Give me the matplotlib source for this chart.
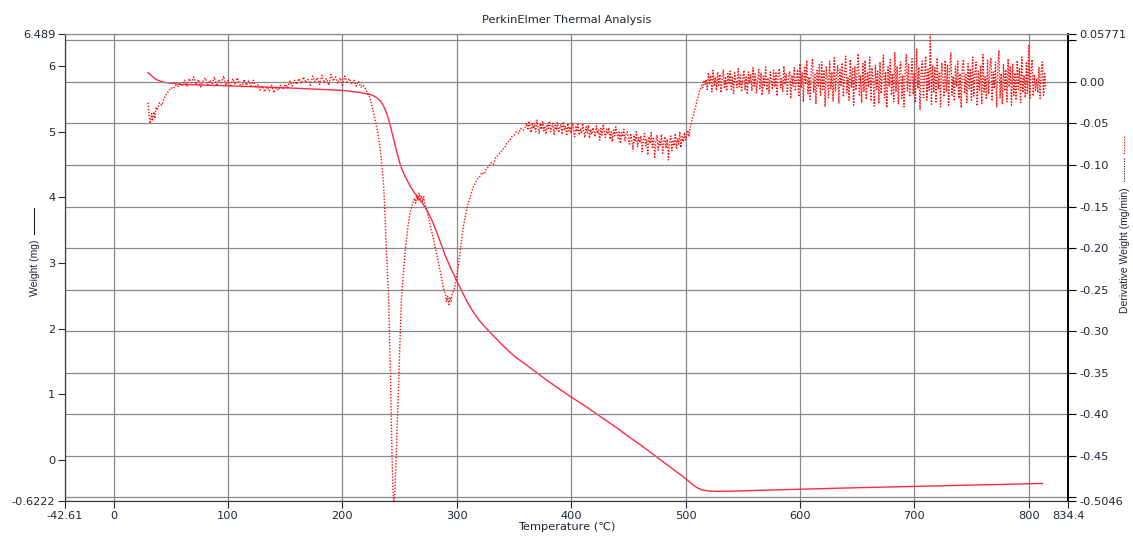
import matplotlib
matplotlib.use("Agg")
import matplotlib.pyplot as plt
from matplotlib.lines import Line2D

plt.rcParams['font.family'] = ['DejaVu Sans']

# ---------------- data ----------------
title = "PerkinElmer Thermal Analysis"
x_label = "Temperature (\u2103)"
left_label = "Weight (mg)"
right_label = "Derivative Weight (mg/min)"

x_ticks = [-42.61, 0, 100, 200, 300, 400, 500, 600, 700, 800, 834.4]
x_tick_labels = ["-42.61", "0", "100", "200", "300", "400", "500", "600", "700", "800", "834.4"]
left_ticks = [-0.6222, 0, 1, 2, 3, 4, 5, 6, 6.489]
left_tick_labels = ["-0.6222", "0", "1", "2", "3", "4", "5", "6", "6.489"]
right_ticks = [-0.5046, -0.50, -0.45, -0.40, -0.35, -0.30, -0.25, -0.20, -0.15,
               -0.10, -0.05, 0.00, 0.05, 0.05771]
right_tick_labels = ["-0.5046", "", "-0.45", "-0.40", "-0.35", "-0.30", "-0.25", "-0.20",
                     "-0.15", "-0.10", "-0.05", "0.00", "", "0.05771"]

# weight (TG) curve
weight_temp = [30, 32, 34, 36, 38, 41, 45, 50, 60, 80, 100, 150, 200, 210, 215, 220,
               224, 227, 230, 232, 234, 236, 238, 240, 242, 244, 246, 248, 250, 252,
               254, 256, 258, 260, 263, 266, 270, 274, 278, 282, 286, 290, 295, 300,
               305, 310, 315, 320, 325, 330, 335, 340, 346, 352, 360, 370, 380, 390,
               400, 410, 420, 430, 440, 450, 460, 470, 480, 490, 497, 502, 506, 510,
               514, 518, 522, 528, 540, 560, 600, 650, 700, 750, 800, 812]
weight_mg = [5.90, 5.87, 5.84, 5.81, 5.79, 5.77, 5.75, 5.74, 5.72, 5.71, 5.70, 5.67,
             5.63, 5.61, 5.60, 5.58, 5.57, 5.55, 5.52, 5.49, 5.45, 5.39, 5.31, 5.21,
             5.08, 4.94, 4.80, 4.66, 4.53, 4.43, 4.35, 4.28, 4.21, 4.15, 4.07, 4.00,
             3.91, 3.80, 3.66, 3.49, 3.30, 3.11, 2.91, 2.73, 2.55, 2.38, 2.24, 2.12,
             2.02, 1.93, 1.84, 1.75, 1.65, 1.56, 1.46, 1.33, 1.20, 1.08, 0.96, 0.85,
             0.73, 0.61, 0.49, 0.36, 0.24, 0.11, -0.02, -0.15, -0.24, -0.31, -0.37,
             -0.42, -0.45, -0.465, -0.472, -0.475, -0.472, -0.462, -0.443, -0.42,
             -0.40, -0.38, -0.36, -0.355]

# derivative (DTG) curve, read segment by segment
dtg_temp_start = [30, 31, 32, 33, 34, 35, 36, 37, 38, 40, 42, 44, 46, 48, 50, 52, 54, 56, 58]
dtg_start = [-0.025, -0.042, -0.050, -0.038, -0.047, -0.036, -0.044, -0.030, -0.034,
             -0.025, -0.028, -0.020, -0.015, -0.011, -0.007, -0.008, -0.004, -0.006, -0.002]

dtg_temp_flat = [60, 62, 64, 66, 68, 70, 72, 74, 76, 78,
                 80, 82, 84, 86, 88, 90, 92, 94, 96, 98,
                 100, 102, 104, 106, 108, 110, 112, 114, 116, 118,
                 120, 122, 124, 126, 128, 130, 132, 134, 136, 138,
                 140, 142, 144, 146, 148, 150, 152, 154, 156, 158,
                 160, 162, 164, 166, 168, 170, 172, 174, 176, 178,
                 180, 182, 184, 186, 188, 190, 192, 194, 196, 198,
                 200, 202, 204, 206, 208, 210, 212, 214, 216, 218]
dtg_flat = [-0.004, 0.002, -0.005, 0.004, -0.001, 0.006, -0.003, 0.003, -0.006, 0.001,
            0.005, -0.004, 0.002, -0.002, 0.006, -0.005, 0.003, -0.001, 0.007, -0.004,
            0.002, -0.006, 0.004, -0.003, 0.005, -0.002, -0.006, 0.003, -0.004, 0.001,
            -0.005, 0.002, -0.007, -0.003, -0.010, -0.005, -0.012, -0.006, -0.011, -0.004,
            -0.013, -0.007, -0.010, -0.004, -0.009, -0.003, -0.007, 0.001, -0.005, 0.002,
            -0.003, 0.004, -0.002, 0.006, -0.001, 0.003, -0.004, 0.007, 0.000, 0.005,
            -0.003, 0.008, -0.001, 0.004, -0.004, 0.009, 0.001, 0.006, -0.002, 0.005,
            -0.004, 0.007, 0.000, 0.004, -0.003, 0.002, -0.005, 0.001, -0.006, -0.004]

dtg_temp_peaks = [220, 222, 224, 226, 228, 230, 232, 234, 236, 237.5, 238.6, 240.4, 241.9,
                  243.3, 244.3, 245, 245.8, 247, 249.4, 251.5, 253.5, 255.5, 257.5, 259,
                  261, 263, 264, 265, 266, 267, 268, 269, 270, 271, 272, 274, 276, 278,
                  280, 282, 284, 286, 288, 290, 291, 292, 293, 294, 295, 296, 298, 300,
                  302, 304, 306, 308, 310, 312, 314, 316, 318, 320, 322, 324, 326, 328,
                  330, 332, 334, 336, 338, 340, 342, 344, 346, 348, 350, 352, 354, 356,
                  358, 360]
dtg_peaks = [-0.008, -0.013, -0.019, -0.030, -0.042, -0.055, -0.070, -0.092, -0.125, -0.170,
             -0.210, -0.262, -0.350, -0.450, -0.495, -0.5046, -0.495, -0.450, -0.350, -0.262,
             -0.225, -0.195, -0.172, -0.158, -0.148, -0.140, -0.146, -0.136, -0.143, -0.134,
             -0.141, -0.137, -0.144, -0.138, -0.147, -0.155, -0.168, -0.180, -0.192, -0.205,
             -0.218, -0.232, -0.246, -0.256, -0.265, -0.258, -0.268, -0.259, -0.264, -0.255,
             -0.248, -0.234, -0.214, -0.192, -0.172, -0.158, -0.146, -0.137, -0.128, -0.122,
             -0.117, -0.114, -0.109, -0.111, -0.104, -0.102, -0.097, -0.099, -0.091, -0.088,
             -0.085, -0.081, -0.079, -0.073, -0.071, -0.066, -0.064, -0.060, -0.062, -0.056,
             -0.058, -0.054]

dtg_temp_mid = [361, 362, 363, 364, 365, 366, 367, 368, 369, 370,
                371, 372, 373, 374, 375, 376, 377, 378, 379, 380,
                381, 382, 383, 384, 385, 386, 387, 388, 389, 390,
                391, 392, 393, 394, 395, 396, 397, 398, 399, 400,
                401, 402, 403, 404, 405, 406, 407, 408, 409, 410,
                411, 412, 413, 414, 415, 416, 417, 418, 419, 420,
                421, 422, 423, 424, 425, 426, 427, 428, 429, 430,
                431, 432, 433, 434, 435, 436, 437, 438, 439, 440,
                441, 442, 443, 444, 445, 446, 447, 448, 449, 450,
                451, 452, 453, 454, 455, 456, 457, 458, 459, 460,
                461, 462, 463, 464, 465, 466, 467, 468, 469, 470,
                471, 472, 473, 474, 475, 476, 477, 478, 479, 480,
                481, 482, 483, 484, 485, 486, 487, 488, 489, 490,
                491, 492, 493, 494, 495, 496, 497, 498, 499, 500,
                501, 502, 503, 504, 505, 506, 507, 508, 509, 510,
                511, 512, 513, 514, 515, 516, 517]
dtg_mid = [-0.050, -0.058, -0.047, -0.055, -0.061, -0.049, -0.056, -0.052, -0.060, -0.046,
           -0.054, -0.062, -0.050, -0.057, -0.048, -0.059, -0.053, -0.063, -0.051, -0.056,
           -0.047, -0.060, -0.054, -0.050, -0.064, -0.052, -0.058, -0.049, -0.061, -0.055,
           -0.051, -0.063, -0.048, -0.057, -0.053, -0.065, -0.050, -0.059, -0.054, -0.062,
           -0.049, -0.058, -0.066, -0.053, -0.060, -0.051, -0.064, -0.056, -0.062, -0.050,
           -0.059, -0.067, -0.054, -0.061, -0.052, -0.068, -0.057, -0.063, -0.055, -0.060,
           -0.066, -0.053, -0.062, -0.058, -0.070, -0.056, -0.064, -0.051, -0.061, -0.067,
           -0.057, -0.063, -0.055, -0.069, -0.060, -0.072, -0.058, -0.065, -0.054, -0.062,
           -0.068, -0.059, -0.074, -0.061, -0.066, -0.057, -0.071, -0.063, -0.060, -0.069,
           -0.075, -0.062, -0.070, -0.081, -0.064, -0.072, -0.060, -0.078, -0.067, -0.073,
           -0.065, -0.084, -0.070, -0.062, -0.077, -0.069, -0.088, -0.066, -0.074, -0.061,
           -0.079, -0.068, -0.092, -0.071, -0.064, -0.082, -0.070, -0.076, -0.063, -0.086,
           -0.072, -0.066, -0.080, -0.069, -0.094, -0.073, -0.065, -0.083, -0.070, -0.077,
           -0.062, -0.081, -0.068, -0.075, -0.060, -0.079, -0.066, -0.072, -0.061, -0.070,
           -0.064, -0.058, -0.066, -0.055, -0.050, -0.044, -0.040, -0.033, -0.029, -0.022,
           -0.018, -0.012, -0.009, -0.004, -0.007, 0.002, -0.003]

dtg_temp_end = [518, 519, 520, 521, 522, 523, 524, 525, 526, 527,
                528, 529, 530, 531, 532, 533, 534, 535, 536, 537,
                538, 539, 540, 541, 542, 543, 544, 545, 546, 547,
                548, 549, 550, 551, 552, 553, 554, 555, 556, 557,
                558, 559, 560, 561, 562, 563, 564, 565, 566, 567,
                568, 569, 570, 571, 572, 573, 574, 575, 576, 577,
                578, 579, 580, 581, 582, 583, 584, 585, 586, 587,
                588, 589, 590, 591, 592, 593, 594, 595, 596, 597,
                598, 599, 600, 601, 602, 603, 604, 605, 606, 607,
                608, 609, 610, 611, 612, 613, 614, 615, 616, 617,
                618, 619, 620, 621, 622, 623, 624, 625, 626, 627,
                628, 629, 630, 631, 632, 633, 634, 635, 636, 637,
                638, 639, 640, 641, 642, 643, 644, 645, 646, 647,
                648, 649, 650, 651, 652, 653, 654, 655, 656, 657,
                658, 659, 660, 661, 662, 663, 664, 665, 666, 667,
                668, 669, 670, 671, 672, 673, 674, 675, 676, 677,
                678, 679, 680, 681, 682, 683, 684, 685, 686, 687,
                688, 689, 690, 691, 692, 693, 694, 695, 696, 697,
                698, 699, 700, 701, 702, 703, 704, 705, 706, 707,
                708, 709, 710, 711, 712, 713, 714, 715, 716, 717,
                718, 719, 720, 721, 722, 723, 724, 725, 726, 727,
                728, 729, 730, 731, 732, 733, 734, 735, 736, 737,
                738, 739, 740, 741, 742, 743, 744, 745, 746, 747,
                748, 749, 750, 751, 752, 753, 754, 755, 756, 757,
                758, 759, 760, 761, 762, 763, 764, 765, 766, 767,
                768, 769, 770, 771, 772, 773, 774, 775, 776, 777,
                778, 779, 780, 781, 782, 783, 784, 785, 786, 787,
                788, 789, 790, 791, 792, 793, 794, 795, 796, 797,
                798, 799, 800, 801, 802, 803, 804, 805, 806, 807,
                808, 809, 810, 811, 812, 813, 814, 815]
dtg_end = [0.003, -0.009, 0.011, -0.002, 0.008, -0.012, 0.014, -0.005, 0.006, -0.010,
           0.012, -0.004, 0.009, -0.013, 0.002, 0.015, -0.008, 0.005, -0.011, 0.010,
           -0.003, 0.013, -0.009, 0.007, -0.014, 0.011, 0.001, -0.007, 0.016, -0.006,
           0.008, -0.012, 0.004, 0.014, -0.009, 0.006, -0.015, 0.012, -0.002, 0.009,
           -0.011, 0.017, -0.005, 0.010, -0.013, 0.003, 0.015, -0.008, 0.011, -0.016,
           0.007, -0.004, 0.018, -0.010, 0.005, -0.014, 0.012, 0.002, -0.009, 0.014,
           -0.006, 0.011, -0.017, 0.009, 0.016, -0.007, 0.004, -0.012, 0.019, -0.003,
           0.010, -0.015, 0.006, 0.013, -0.020, 0.008, -0.005, 0.017, -0.011, 0.004,
           0.015, -0.018, 0.022, -0.007, 0.011, -0.024, 0.019, -0.003, 0.026, -0.014,
           0.006, -0.021, 0.017, 0.028, -0.012, 0.009, -0.027, 0.014, -0.005, 0.021,
           -0.016, 0.024, -0.009, 0.013, -0.030, 0.018, 0.004, -0.019, 0.025, -0.008,
           0.012, -0.023, 0.029, -0.011, 0.007, 0.020, -0.026, 0.015, -0.004, 0.023,
           -0.018, 0.010, 0.031, -0.013, 0.005, -0.022, 0.027, -0.007, 0.016, -0.028,
           0.019, -0.010, 0.014, 0.034, -0.017, 0.008, -0.025, 0.022, -0.012, 0.026,
           -0.021, 0.012, -0.006, 0.030, -0.023, 0.017, 0.002, -0.029, 0.020, -0.009,
           0.013, -0.026, 0.024, -0.014, 0.009, 0.032, -0.019, 0.011, -0.031, 0.018,
           -0.005, 0.027, -0.016, 0.010, -0.024, 0.036, -0.012, 0.019, -0.027, 0.014,
           0.024, -0.020, 0.008, -0.030, 0.016, 0.033, -0.011, 0.021, -0.018, 0.006,
           0.028, -0.015, 0.011, -0.025, 0.040, -0.008, 0.018, -0.033, 0.013, 0.025,
           -0.019, 0.009, 0.031, -0.022, 0.015, -0.010, 0.057, -0.027, 0.020, -0.013,
           0.017, -0.024, 0.029, -0.009, 0.012, -0.030, 0.023, 0.004, -0.018, 0.026,
           -0.012, 0.021, -0.028, 0.014, 0.035, -0.016, 0.007, -0.023, 0.019, -0.006,
           0.025, -0.020, 0.010, -0.031, 0.018, 0.027, -0.014, 0.009, -0.025, 0.022,
           -0.008, 0.016, -0.022, 0.030, -0.017, 0.011, 0.024, -0.029, 0.013, -0.010,
           0.020, -0.026, 0.033, -0.012, 0.006, -0.021, 0.026, -0.015, 0.018, 0.029,
           -0.023, 0.012, -0.008, 0.024, -0.030, 0.017, 0.038, -0.019, 0.010, -0.027,
           0.021, -0.011, 0.015, -0.024, 0.028, -0.006, 0.019, -0.028, 0.022, -0.016,
           0.011, -0.022, 0.026, -0.009, 0.016, -0.025, 0.030, -0.013, 0.008, -0.019,
           0.023, -0.014, 0.044, -0.021, 0.012, 0.027, -0.017, 0.009, -0.010, 0.004,
           -0.013, 0.018, -0.020, 0.015, 0.024, -0.016, 0.010, -0.008]

dtg_temp = dtg_temp_start + dtg_temp_flat + dtg_temp_peaks + dtg_temp_mid + dtg_temp_end
dtg_value = dtg_start + dtg_flat + dtg_peaks + dtg_mid + dtg_end

# ---------------- figure ----------------
W, H = 1133, 538
fig = plt.figure(figsize=(W / 100, H / 100), dpi=100)
L, R, T, B = 65, 1068, 34, 501
ax = fig.add_axes([L / W, 1 - B / H, (R - L) / W, (B - T) / H])
ax2 = ax.twinx()

grid_col = "#8a8a8a"
txt_col = "#20253a"
fs = 8.2
side_font = ['Liberation Sans', 'DejaVu Sans']

ax.set_xlim(x_ticks[0], x_ticks[-1])
ax.set_ylim(left_ticks[0], left_ticks[-1])
ax2.set_ylim(right_ticks[0], right_ticks[-1])

ax.plot(weight_temp, weight_mg, color="#ff2a45", lw=1.0, solid_joinstyle="round")
ax2.plot(dtg_temp, dtg_value, color="#ff0d0d", lw=1.0, linestyle=(0, (1, 1.2)))

ax.set_xticks(x_ticks)
ax.set_xticklabels(x_tick_labels)
ax.set_yticks(left_ticks)
ax.set_yticklabels(left_tick_labels)
ax2.set_yticks(right_ticks)
ax2.set_yticklabels(right_tick_labels)

ax.grid(axis="x", color=grid_col, lw=0.9)
ax2.grid(axis="y", color=grid_col, lw=0.9)
ax.set_axisbelow(True)

for a in (ax, ax2):
    a.tick_params(direction="out", length=5, width=0.8, labelsize=fs,
                  colors=txt_col, pad=2)
    a.spines["top"].set_color(grid_col)
    a.spines["left"].set_color("#3a3a3a")
    a.spines["bottom"].set_color("#3a3a3a")
    a.spines["right"].set_color("#000000")
    a.spines["right"].set_linewidth(1.2)
ax2.tick_params(axis="y", length=6, color="#000000")

fig.text(567 / W, 1 - 20 / H, title, ha="center", va="center", fontsize=fs, color=txt_col)
fig.text(567 / W, 1 - 527 / H, x_label, ha="center", va="center", fontsize=fs, color=txt_col)

fig.text(35 / W, 1 - 268 / H, left_label, rotation=90, ha="center", va="center",
         fontsize=7.5, color=txt_col, family=side_font)
fig.add_artist(Line2D([34 / W, 34 / W], [1 - 208 / H, 1 - 234 / H],
                      transform=fig.transFigure, color="#222222", lw=0.8))

fig.text(1125 / W, 1 - 250 / H, right_label, rotation=90, ha="center", va="center",
         fontsize=7.5, color=txt_col, family=side_font)
fig.add_artist(Line2D([1124 / W, 1124 / W], [1 - 158 / H, 1 - 182 / H],
                      transform=fig.transFigure, color="#222222", lw=0.8,
                      linestyle=(0, (1, 1.2))))
fig.add_artist(Line2D([1124 / W, 1124 / W], [1 - 136 / H, 1 - 155 / H],
                      transform=fig.transFigure, color="#ff0d0d", lw=0.9,
                      linestyle=(0, (1, 1.2))))

fig.savefig("out.png", dpi=100)
